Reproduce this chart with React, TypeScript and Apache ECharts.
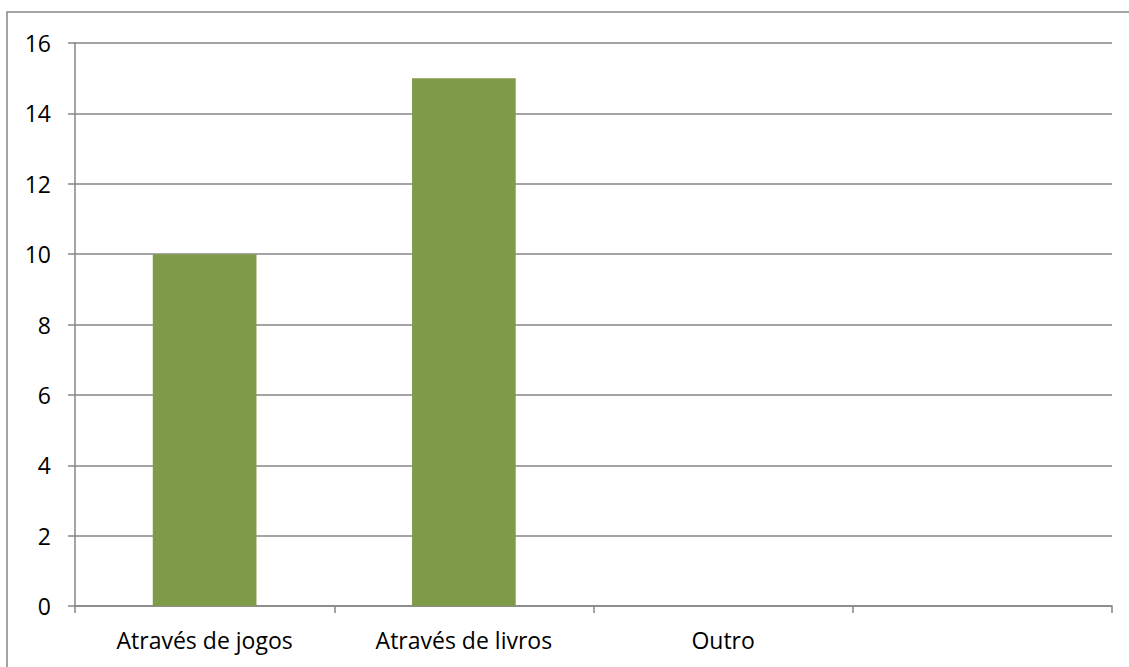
import React, { useEffect, useRef } from "react";
import * as echarts from "echarts";

const categories = ["Através de jogos", "Através de livros", "Outro", ""];
const values: (number | null)[] = [10, 15, 0, null];
const yMin = 0;
const yMax = 16;
const yInterval = 2;

const FONT = "Open Sans";
const GRAY = "#868686";

export default function App() {
  const ref = useRef<HTMLDivElement>(null);
  useEffect(() => {
    if (!ref.current) return;
    const chart = echarts.init(ref.current, null, { renderer: "svg" });
    chart.setOption({
      animation: false,
      backgroundColor: "#ffffff",
      grid: { left: 75, right: 17, top: 43, bottom: 61, containLabel: false },
      graphic: [
        {
          type: "rect",
          shape: { x: 7, y: 12, width: 1200, height: 700 },
          style: { fill: "none", stroke: GRAY, lineWidth: 1.5 },
          silent: true,
        },
      ],
      xAxis: {
        type: "category",
        data: categories,
        boundaryGap: true,
        axisLine: { show: true, lineStyle: { color: GRAY, width: 1.5 } },
        axisTick: { show: true, length: 7, lineStyle: { color: GRAY, width: 1.5 }, interval: 0 },
        axisLabel: { color: "#000", fontFamily: FONT, fontSize: 23, margin: 22, interval: 0 },
        splitLine: { show: false },
      },
      yAxis: {
        type: "value",
        min: yMin,
        max: yMax,
        interval: yInterval,
        axisLine: { show: true, lineStyle: { color: GRAY, width: 1.5 } },
        axisTick: { show: true, length: 7, lineStyle: { color: GRAY, width: 1.5 } },
        axisLabel: { color: "#000", fontFamily: FONT, fontSize: 23, margin: 24 },
        splitLine: { show: true, lineStyle: { color: GRAY, width: 1.5 } },
      },
      series: [
        {
          type: "bar",
          data: values,
          barWidth: "40%",
          itemStyle: { color: "#7F9B4A" },
        },
      ],
    });
    return () => chart.dispose();
  }, []);
  return (
    <div
      ref={ref}
      style={{ position: "absolute", left: 0, top: 0, width: 1129, height: 667 }}
    />
  );
}
